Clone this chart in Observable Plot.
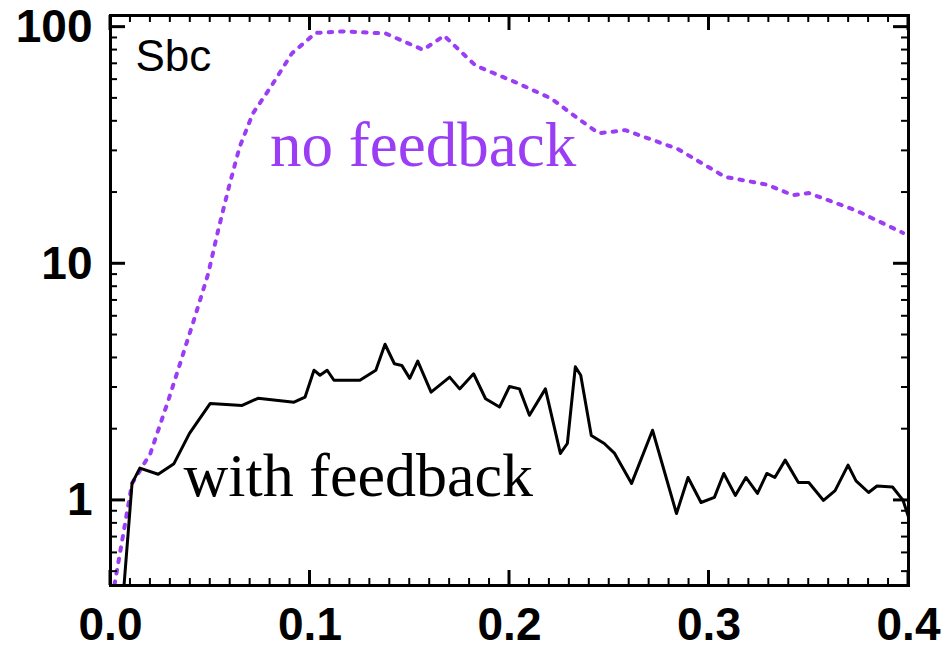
<!DOCTYPE html>
<html><head><meta charset="utf-8">
<script src="https://cdn.jsdelivr.net/npm/d3@7"></script>
<script src="https://cdn.jsdelivr.net/npm/@observablehq/plot@0.6"></script>
<style>body{margin:0;background:#fff}</style>
</head><body><div id="c"></div>
<script>
const fbX = [0.0068,0.0108,0.0147,0.0239,0.0318,0.0396,0.050,0.066,0.0739,0.092,0.0975,0.102,0.105,0.1086,0.112,0.125,0.133,0.1376,0.1423,0.146,0.150,0.154,0.1607,0.170,0.175,0.182,0.188,0.195,0.200,0.205,0.210,0.218,0.2255,0.229,0.233,0.2357,0.241,0.2475,0.2527,0.2612,0.2717,0.2837,0.2895,0.296,0.3027,0.3074,0.3132,0.3185,0.3243,0.329,0.333,0.3382,0.3448,0.350,0.3574,0.3632,0.3697,0.3737,0.380,0.3842,0.392,0.3973,0.400];
const fbY = [0.44,1.18,1.37,1.29,1.43,1.92,2.57,2.52,2.70,2.6,2.73,3.55,3.38,3.55,3.22,3.22,3.55,4.57,3.78,3.72,3.28,3.88,2.87,3.32,2.96,3.43,2.69,2.48,3.03,2.96,2.29,2.96,1.58,1.74,3.67,3.38,1.88,1.74,1.58,1.18,1.98,0.88,1.25,0.98,1.03,1.30,1.05,1.25,1.07,1.30,1.25,1.48,1.19,1.19,1.0,1.10,1.41,1.21,1.08,1.15,1.14,1.0,0.85];
const nfX = [0.002,0.0108,0.020,0.029,0.0418,0.049,0.054,0.0594,0.0647,0.0713,0.0804,0.091,0.1028,0.1173,0.138,0.1567,0.1672,0.183,0.2028,0.221,0.2343,0.2448,0.258,0.2842,0.308,0.329,0.342,0.350,0.3737,0.3973];
const nfY = [0.44,1.18,1.58,2.65,5.78,9.1,13.9,21.2,31.1,43.1,56,77.6,94.5,96,94,80.2,92,68.8,58.6,49.9,41.1,35.6,36.7,30.6,23.3,21.6,19.5,19.9,16.8,13.5];
const xTicks = [0,0.1,0.2,0.3,0.4];
const xTickLabels = ["0.0","0.1","0.2","0.3","0.4"];
const yTicks = [1,10,100];

const fb = fbX.map((x,i)=>({x,y:fbY[i]}));
const nf = nfX.map((x,i)=>({x,y:nfY[i]}));
const W=943,H=654;
const serif="Liberation Serif, Times New Roman, serif";
const chart = Plot.plot({
  width:W,height:H,
  marginLeft:110,marginRight:35,marginTop:15,marginBottom:69,
  x:{domain:[0,0.4]},
  y:{type:"log",domain:[0.437,112]},
  style:{fontFamily:"Liberation Sans, Arial, sans-serif"},
  marks:[
    Plot.line(nf,{x:"x",y:"y",stroke:"#9b3df5",strokeWidth:4,strokeDasharray:"3.5,8",clip:true}),
    Plot.line(fb,{x:"x",y:"y",stroke:"#000",strokeWidth:3,clip:true}),
    Plot.axisX(xTicks,{tickSize:0,tickPadding:22,fontSize:46,fontWeight:"bold",tickFormat:(d,i)=>xTickLabels[i],label:null}),
    Plot.axisY(yTicks,{tickSize:0,tickPadding:18,fontSize:46,fontWeight:"bold",tickFormat:d=>String(d),label:null}),
    Plot.text(["Sbc"],{x:0.0125,y:65,text:d=>d,textAnchor:"start",lineAnchor:"bottom",fontSize:44,fill:"#000"}),
    Plot.text(["no feedback"],{x:0.080,y:26,text:d=>d,textAnchor:"start",lineAnchor:"bottom",fontSize:63,fontFamily:serif,fill:"#9b3df5"}),
    Plot.text(["with feedback"],{x:0.0366,y:1.04,text:d=>d,textAnchor:"start",lineAnchor:"bottom",fontSize:62,fontFamily:serif,fill:"#000"}),
    Plot.frame({stroke:"#000",strokeWidth:3})
  ]
});
document.getElementById("c").appendChild(chart);
const sx=chart.scale("x"), sy=chart.scale("y");
const [x0,x1]=sx.range, [y0,y1]=sy.range;
const svg=d3.select(chart);
const g=svg.append("g").attr("stroke","#000");
const xt=d3.range(0,0.4001,0.01);
xt.forEach((v,i)=>{const major=i%10===0;const L=major?15:7;const px=sx.apply(v);
  g.append("line").attr("x1",px).attr("x2",px).attr("y1",y0).attr("y2",y0-L).attr("stroke-width",major?3:2);
  g.append("line").attr("x1",px).attr("x2",px).attr("y1",y1).attr("y2",y1+L).attr("stroke-width",major?3:2);});
const yt=[];[0.1,1,10].forEach(b=>{for(let k=1;k<10;k++)yt.push(b*k)});yt.push(100);
yt.filter(v=>v>=0.437&&v<=112).forEach(v=>{const major=[1,10,100].includes(v);const L=major?15:7;const py=sy.apply(v);
  g.append("line").attr("x1",x0).attr("x2",x0+L).attr("y1",py).attr("y2",py).attr("stroke-width",major?3:2);
  g.append("line").attr("x1",x1).attr("x2",x1-L).attr("y1",py).attr("y2",py).attr("stroke-width",major?3:2);});
</script></body></html>
